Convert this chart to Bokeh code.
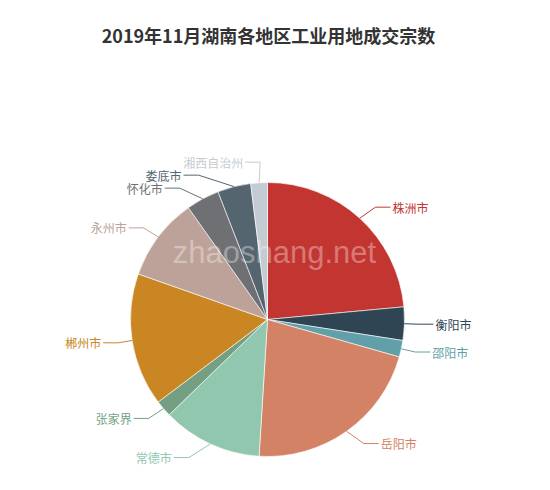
import math
from bokeh.plotting import figure
from bokeh.models import Range1d, ColumnDataSource
from bokeh.core.properties import value
from bokeh.embed import file_html
from bokeh.resources import INLINE

title = "2019年11月湖南各地区工业用地成交宗数"
names = ["株洲市", "衡阳市", "邵阳市", "岳阳市", "常德市", "张家界",
         "郴州市", "永州市", "怀化市", "娄底市", "湘西自治州"]
counts = [12, 2, 1, 11, 6, 1, 8, 5, 2, 2, 1]
colors = ["#c23531", "#2f4554", "#61a0a8", "#d48265", "#91c7ae", "#749f83",
          "#ca8622", "#bda29a", "#6e7074", "#546570", "#c4ccd3"]
watermark = "zhaoshang.net"

W, H = 534, 474
CX, CY, R = 267, 155, 137
LEN1, LEN2, GAP, LINE_H = 15, 15, 2, 13
FONT = "Noto Sans CJK SC"

# angles measured clockwise from the top, like the original pie
total = sum(counts)
acc = 0
a_start, a_end, a_mid = [], [], []
for v in counts:
    a0 = acc / total * 2 * math.pi
    acc += v
    a1 = acc / total * 2 * math.pi
    a_start.append(math.pi / 2 - a0)
    a_end.append(math.pi / 2 - a1)
    a_mid.append((a0 + a1) / 2)

p = figure(width=W, height=H, x_range=Range1d(0, W), y_range=Range1d(0, H),
           output_backend="svg", toolbar_location=None, min_border=0,
           outline_line_color=None)
p.axis.visible = False
p.grid.visible = False

src = ColumnDataSource(dict(start=a_start, end=a_end, color=colors, name=names))
p.wedge(x=CX, y=CY, radius=R, start_angle="start", end_angle="end",
        direction="clock", fill_color="color", line_color="white",
        line_width=0.6, source=src)

# label anchors (echarts-like outside labels)
n = len(names)
edge, x1, ly, side = [], [], [], []
for t in a_mid:
    sx, sy = math.sin(t), math.cos(t)
    edge.append((CX + R * sx, CY + R * sy))
    x1.append(CX + (R + LEN1) * sx)
    ly.append(CY + (R + LEN1) * sy)
    side.append(1 if sx >= 0 else -1)

dist = [0.0] * n
RL = R + LEN1 + LEN2 + 1
for s in (1, -1):
    idx = sorted([i for i in range(n) if side[i] == s], key=lambda i: -ly[i])
    # push overlapping labels apart
    for _ in range(30):
        for a, b in zip(idx, idx[1:]):
            d = ly[a] - ly[b]
            if d < LINE_H:
                shift = (LINE_H - d) / 2
                ly[a] += shift
                ly[b] -= shift
    up = [i for i in idx if ly[i] >= CY]
    down = [i for i in idx if ly[i] < CY]
    for group, is_down in ((up, False), (down, True)):
        last = 1e9 if is_down else 0
        for i in group:
            dy = abs(ly[i] - CY)
            if dy < R + LEN1:
                dx = math.sqrt(RL * RL - dy * dy)
            else:
                dx = abs(x1[i] - CX) + LEN2
            if is_down and dx >= last:
                dx = last - 10
            if not is_down and dx <= last:
                dx = last + 10
            dist[i] = dx
            last = dx

xs, ys, tx, ty, align = [], [], [], [], []
for i in range(n):
    lx = CX + side[i] * dist[i]
    end = lx - side[i] * GAP
    elb = end - side[i] * LEN2
    xs.append([edge[i][0], elb, end])
    ys.append([edge[i][1], ly[i], ly[i]])
    tx.append(lx)
    ty.append(ly[i])
    align.append("left" if side[i] > 0 else "right")

lab = ColumnDataSource(dict(xs=xs, ys=ys, x=tx, y=ty, align=align,
                            color=colors, name=names))
p.multi_line(xs="xs", ys="ys", line_color="color", line_width=1, source=lab)
p.text(x="x", y="y", text="name", text_color="color", text_align="align",
       text_baseline="middle", text_font=value(FONT), text_font_size="12px",
       source=lab)

p.text(x=[CX + 7], y=[CY + 67], text=[watermark], text_color="white",
       text_alpha=0.35, text_align="center", text_baseline="alphabetic",
       text_font=value("Liberation Sans"), text_font_size="31px")

p.text(x=[W / 2 + 1], y=[H - 34], text=[title], text_color="#333333",
       text_align="center", text_baseline="middle", text_font=value(FONT),
       text_font_style="bold", text_font_size="18px")

open("out.html", "w").write(file_html(p, INLINE))
